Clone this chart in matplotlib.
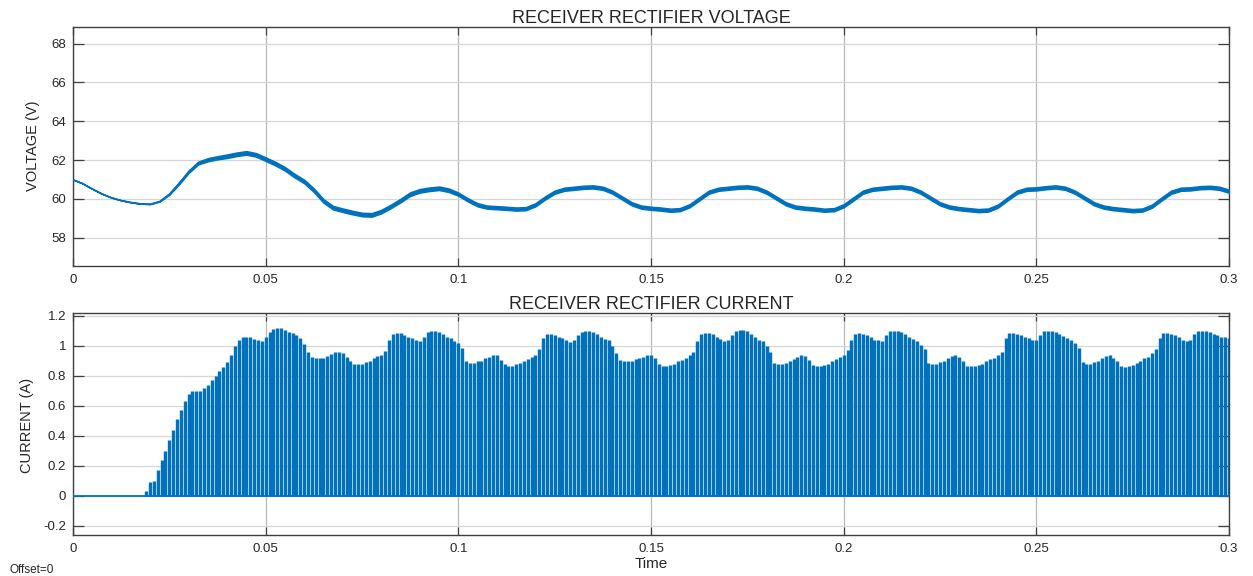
import numpy as np
import matplotlib
matplotlib.use("Agg")
import matplotlib.pyplot as plt

# ---------------- data ----------------
# Voltage: centre of the trace every 2.5 ms from 0 to 0.3 s
v_time_step_ms = 2.5
voltage_center = [
    61.0, 60.8, 60.52, 60.27, 60.07, 59.93, 59.83, 59.76, 59.74, 59.88,
    60.25, 60.8, 61.4, 61.85, 62.02, 62.12, 62.2, 62.3, 62.37, 62.27,
    62.05, 61.82, 61.55, 61.2, 60.9, 60.45, 59.9, 59.55, 59.42, 59.3,
    59.2, 59.18, 59.35, 59.62, 59.92, 60.25, 60.42, 60.5, 60.55, 60.45,
    60.25, 59.95, 59.7, 59.58, 59.55, 59.52, 59.48, 59.5, 59.7, 60.05,
    60.35, 60.5, 60.55, 60.6, 60.62, 60.55, 60.35, 60.05, 59.75, 59.58,
    59.52, 59.48, 59.42, 59.45, 59.65, 60.0, 60.35, 60.5, 60.55, 60.6,
    60.62, 60.55, 60.35, 60.05, 59.75, 59.58, 59.52, 59.48, 59.42, 59.45,
    59.65, 60.0, 60.35, 60.5, 60.55, 60.6, 60.62, 60.55, 60.35, 60.05,
    59.75, 59.58, 59.5, 59.45, 59.4, 59.43, 59.63, 60.0, 60.35, 60.5,
    60.52, 60.58, 60.62, 60.55, 60.35, 60.05, 59.75, 59.58, 59.5, 59.45,
    59.4, 59.43, 59.63, 60.0, 60.35, 60.5, 60.52, 60.58, 60.6, 60.55,
    60.4,
]
# half peak-to-peak ripple of the voltage trace at the same instants
voltage_ripple = [
    0.0, 0.0, 0.0, 0.0, 0.0, 0.0, 0.0, 0.0, 0.0, 0.01,
    0.03, 0.05, 0.06, 0.07, 0.08, 0.08, 0.09, 0.09, 0.09, 0.09,
    0.09, 0.09, 0.09, 0.09, 0.09, 0.09, 0.09, 0.09, 0.09, 0.09,
    0.09, 0.09, 0.09, 0.09, 0.09, 0.09, 0.09, 0.09, 0.09, 0.09,
    0.08, 0.08, 0.08, 0.08, 0.08, 0.08, 0.08, 0.08, 0.08, 0.08,
    0.08, 0.08, 0.08, 0.08, 0.08, 0.08, 0.08, 0.08, 0.08, 0.08,
    0.08, 0.08, 0.08, 0.08, 0.08, 0.08, 0.08, 0.08, 0.08, 0.08,
    0.08, 0.08, 0.08, 0.08, 0.08, 0.08, 0.08, 0.08, 0.08, 0.08,
    0.08, 0.08, 0.08, 0.08, 0.08, 0.08, 0.08, 0.08, 0.08, 0.08,
    0.08, 0.08, 0.08, 0.08, 0.08, 0.08, 0.08, 0.08, 0.08, 0.08,
    0.08, 0.08, 0.08, 0.08, 0.08, 0.08, 0.08, 0.08, 0.08, 0.08,
    0.08, 0.08, 0.08, 0.08, 0.08, 0.08, 0.08, 0.08, 0.08, 0.08,
    0.08,
]

# Current: zero before conduction starts, then one pulse per ms (19 ms .. 300 ms)
current_zero_time = [0.0, 0.019]
current_zero_value = [0.0, 0.0]
pulse_first_ms = 19
current_peaks = [
    # 19 - 81 ms (start-up)
    0.03, 0.09, 0.10, 0.17, 0.24, 0.30, 0.37, 0.44, 0.51, 0.57,
    0.63, 0.68, 0.695, 0.70, 0.70, 0.72, 0.74, 0.77, 0.80, 0.83,
    0.86, 0.89, 0.94, 1.00, 1.04, 1.055, 1.055, 1.055, 1.045, 1.035,
    1.03, 1.06, 1.09, 1.11, 1.117, 1.117, 1.105, 1.09, 1.085, 1.07,
    1.05, 1.01, 0.96, 0.925, 0.915, 0.915, 0.92, 0.93, 0.945, 0.955,
    0.96, 0.95, 0.925, 0.895, 0.88, 0.875, 0.88, 0.89, 0.90, 0.915,
    0.93, 0.94, 0.965,
    # 82 - 121 ms
    1.04, 1.075, 1.085, 1.085, 1.07, 1.06, 1.05, 1.04, 1.03, 1.06,
    1.09, 1.10, 1.10, 1.09, 1.075, 1.06, 1.05, 1.03, 1.02, 0.985,
    0.90, 0.885, 0.885, 0.895, 0.90, 0.915, 0.925, 0.94, 0.935, 0.905,
    0.875, 0.865, 0.865, 0.875, 0.885, 0.895, 0.91, 0.925, 0.94, 0.98,
    # 122 - 161 ms
    1.05, 1.075, 1.075, 1.07, 1.06, 1.05, 1.035, 1.025, 1.035, 1.07,
    1.09, 1.10, 1.10, 1.09, 1.08, 1.06, 1.045, 1.035, 1.00, 0.95,
    0.905, 0.895, 0.895, 0.90, 0.91, 0.92, 0.925, 0.94, 0.935, 0.915,
    0.88, 0.865, 0.865, 0.87, 0.88, 0.895, 0.905, 0.92, 0.935, 0.96,
    # 162 - 201 ms
    1.03, 1.08, 1.085, 1.085, 1.075, 1.06, 1.045, 1.03, 1.035, 1.07,
    1.095, 1.105, 1.105, 1.095, 1.08, 1.06, 1.04, 1.03, 1.00, 0.96,
    0.885, 0.875, 0.875, 0.885, 0.895, 0.91, 0.925, 0.94, 0.93, 0.905,
    0.87, 0.862, 0.862, 0.87, 0.88, 0.895, 0.91, 0.925, 0.935, 0.97,
    # 202 - 241 ms
    1.035, 1.08, 1.085, 1.08, 1.07, 1.055, 1.04, 1.035, 1.03, 1.07,
    1.095, 1.10, 1.10, 1.09, 1.075, 1.06, 1.045, 1.03, 1.005, 0.98,
    0.885, 0.88, 0.88, 0.89, 0.90, 0.915, 0.93, 0.94, 0.925, 0.90,
    0.865, 0.862, 0.862, 0.87, 0.88, 0.895, 0.91, 0.92, 0.935, 0.96,
    # 242 - 281 ms
    1.05, 1.085, 1.085, 1.08, 1.07, 1.06, 1.05, 1.04, 1.035, 1.07,
    1.095, 1.10, 1.10, 1.09, 1.08, 1.065, 1.05, 1.035, 1.02, 0.985,
    0.89, 0.88, 0.88, 0.89, 0.90, 0.915, 0.93, 0.935, 0.92, 0.895,
    0.862, 0.86, 0.862, 0.87, 0.885, 0.90, 0.915, 0.925, 0.95, 0.975,
    # 282 - 300 ms
    1.05, 1.085, 1.085, 1.08, 1.07, 1.055, 1.04, 1.03, 1.04, 1.075,
    1.095, 1.10, 1.10, 1.09, 1.08, 1.07, 1.06, 1.055, 1.05,
]

x_ticks = [0, 0.05, 0.1, 0.15, 0.2, 0.25, 0.3]
x_tick_labels = ["0", "0.05", "0.1", "0.15", "0.2", "0.25", "0.3"]
v_ticks = [58, 60, 62, 64, 66, 68]
v_tick_labels = ["58", "60", "62", "64", "66", "68"]
i_ticks = [-0.2, 0, 0.2, 0.4, 0.6, 0.8, 1.0, 1.2]
i_tick_labels = ["-0.2", "0", "0.2", "0.4", "0.6", "0.8", "1", "1.2"]

# ---------------- drawing ----------------
BLUE = "#0072BD"
AX_COLOR = "#404040"
TXT = "#262626"
plt.rcParams["font.family"] = ["Liberation Sans", "DejaVu Sans"]

W, H = 1253, 576
fig = plt.figure(figsize=(W / 100, H / 100), dpi=100)
fig.patch.set_facecolor("white")


def px_axes(left, top, right, bottom):
    return fig.add_axes([left / W, 1 - bottom / H, (right - left) / W, (bottom - top) / H])


ax1 = px_axes(73, 27, 1229, 266)
ax2 = px_axes(73, 313, 1229, 535)

vt = np.arange(len(voltage_center)) * v_time_step_ms / 1000.0
vc = np.asarray(voltage_center)
vr = np.asarray(voltage_ripple)
ax1.fill_between(vt, vc - vr, vc + vr, color=BLUE, linewidth=1.1, edgecolor=BLUE, zorder=3)
ax1.plot(vt, vc, color=BLUE, linewidth=0.9, zorder=3)

pt = (pulse_first_ms + np.arange(len(current_peaks))) / 1000.0
ax2.plot(current_zero_time, current_zero_value, color=BLUE, linewidth=1.3, zorder=3)
ax2.vlines(pt, 0, current_peaks, color=BLUE, linewidth=2.45, zorder=3)
ax2.plot([pt[0], pt[-1]], [0, 0], color=BLUE, linewidth=1.3, zorder=3)

for ax, yl, yt, ytl in ((ax1, (56.55, 68.85), v_ticks, v_tick_labels),
                        (ax2, (-0.262, 1.218), i_ticks, i_tick_labels)):
    ax.set_xlim(0, 0.3)
    ax.set_ylim(*yl)
    ax.set_xticks(x_ticks)
    ax.set_xticklabels(x_tick_labels)
    ax.set_yticks(yt)
    ax.set_yticklabels(ytl)
    ax.grid(True, axis="y", color="#d6d6d6", linewidth=0.9, zorder=0)
    ax.grid(True, axis="x", color="#b8b8b8", linewidth=0.9, zorder=0)
    ax.set_axisbelow(True)
    for s in ax.spines.values():
        s.set_color(AX_COLOR)
        s.set_linewidth(1.0)
    ax.tick_params(axis="both", which="major", direction="in", top=True, right=True,
                   colors=AX_COLOR, labelcolor=TXT, labelsize=9.5, width=0.9)
    ax.tick_params(axis="y", length=8, pad=5)
    ax.tick_params(axis="x", length=6, pad=6)

ax1.set_title("RECEIVER RECTIFIER VOLTAGE", fontsize=13, color=TXT, pad=3)
ax2.set_title("RECEIVER RECTIFIER CURRENT", fontsize=13, color=TXT, pad=3)

fig.text(33 / W, 1 - 146 / H, "VOLTAGE (V)", rotation=90, ha="center", va="center",
         fontsize=10.5, color=TXT)
fig.text(27 / W, 1 - 425 / H, "CURRENT (A)", rotation=90, ha="center", va="center",
         fontsize=10.5, color=TXT)
fig.text(651 / W, 1 - 564 / H, "Time", ha="center", va="center", fontsize=11, color=TXT)
fig.text(10 / W, 1 - 570 / H, "Offset=0", ha="left", va="center", fontsize=8.5, color=TXT)

fig.savefig("out.png", dpi=100, facecolor="white")
